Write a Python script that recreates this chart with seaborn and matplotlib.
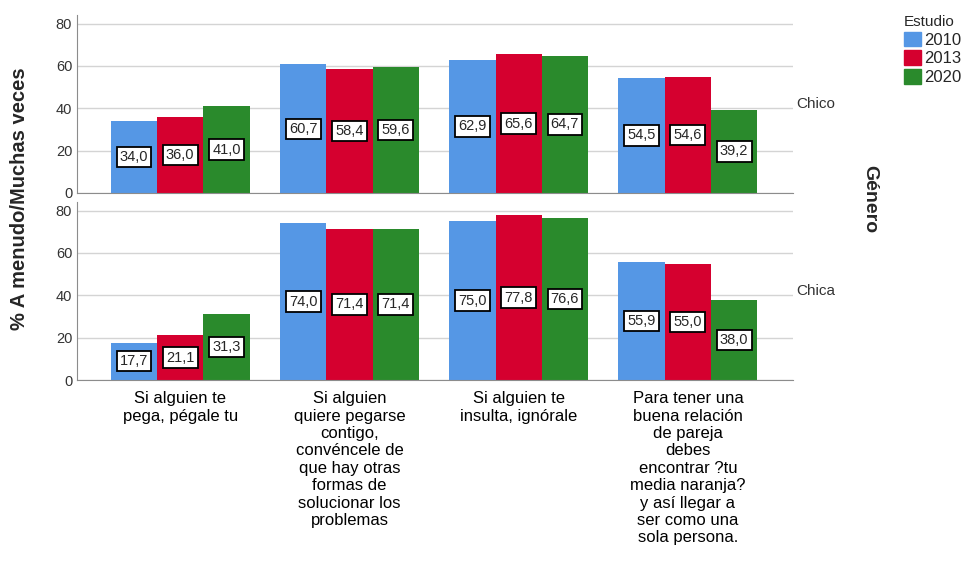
import pandas as pd
import matplotlib.pyplot as plt
import seaborn as sns
from matplotlib.patches import Patch

# ---- data ----
categories = [
    "Si alguien te\npega, pégale tu",
    "Si alguien\nquiere pegarse\ncontigo,\nconvéncele de\nque hay otras\nformas de\nsolucionar los\nproblemas",
    "Si alguien te\ninsulta, ignórale",
    "Para tener una\nbuena relación\nde pareja\ndebes\nencontrar ?tu\nmedia naranja?\ny así llegar a\nser como una\nsola persona.",
]
years = ["2010", "2013", "2020"]
genders = ["Chico", "Chica"]

chico_2010 = [34.0, 60.7, 62.9, 54.5]
chico_2013 = [36.0, 58.4, 65.6, 54.6]
chico_2020 = [41.0, 59.6, 64.7, 39.2]
chica_2010 = [17.7, 74.0, 75.0, 55.9]
chica_2013 = [21.1, 71.4, 77.8, 55.0]
chica_2020 = [31.3, 71.4, 76.6, 38.0]

colors = ["#5597e5", "#d5002f", "#2a8a2c"]

rows = []
for g, series in [("Chico", [chico_2010, chico_2013, chico_2020]),
                  ("Chica", [chica_2010, chica_2013, chica_2020])]:
    for y, vals in zip(years, series):
        for c, v in zip(categories, vals):
            rows.append({"genero": g, "estudio": y, "cat": c, "val": v})
df = pd.DataFrame(rows)

# ---- plot ----
sns.set_style("white")
plt.rcParams['font.family'] = ['Liberation Sans', 'DejaVu Sans']

fig = plt.figure(figsize=(9.66, 5.61), dpi=100)
ax_top = fig.add_axes([0.0797, 0.656, 0.741, 0.317])
ax_bot = fig.add_axes([0.0797, 0.3226, 0.741, 0.317])

for ax, g in [(ax_top, "Chico"), (ax_bot, "Chica")]:
    sub = df[df["genero"] == g]
    sns.barplot(data=sub, x="cat", y="val", hue="estudio", hue_order=years,
                order=categories, palette=colors, width=0.82, gap=0,
                saturation=1, errorbar=None, ax=ax, legend=False,
                linewidth=0)
    for cont in ax.containers:
        labs = [f"{b.get_height():.1f}".replace(".", ",") for b in cont]
        ax.bar_label(cont, labels=labs, label_type="center", fontsize=10.5,
                     bbox=dict(boxstyle="square,pad=0.22", fc="white",
                               ec="black", lw=1.3))
    ax.set_ylim(0, 84)
    ax.set_xlim(-0.61, 3.62)
    ax.set_yticks([0, 20, 40, 60, 80])
    ax.yaxis.grid(True, color="#d4d4d4", lw=1)
    ax.set_axisbelow(True)
    for s in ["top", "right"]:
        ax.spines[s].set_visible(False)
    for s in ["left", "bottom"]:
        ax.spines[s].set_color("#8c8c8c")
    ax.tick_params(axis="both", length=0, labelsize=10.5, colors="#333333")
    ax.set_xlabel("")
    ax.set_ylabel("")
    ax.text(1.005, 0.5, g, transform=ax.transAxes, fontsize=11,
            color="#333333", va="center", ha="left")

ax_top.set_xticklabels([])
ax_bot.tick_params(axis="x", labelsize=12, colors="black", pad=8)

fig.text(0.02, 0.645, "% A menudo/Muchas veces", rotation=90, fontsize=14.5,
         fontweight="bold", va="center", ha="center")
fig.text(0.9, 0.645, "Género", rotation=-90, fontsize=14,
         fontweight="bold", va="center", ha="center")

handles = [Patch(color=c, label=y) for c, y in zip(colors, years)]
leg = fig.legend(handles=handles, title="Estudio", loc="upper left",
                 bbox_to_anchor=(0.929, 0.985), frameon=False, fontsize=12,
                 title_fontsize=11, handlelength=1.0, handleheight=1.0,
                 handletextpad=0.2, labelspacing=0.15, borderaxespad=0)
leg._legend_box.align = "left"

fig.savefig("out.png", dpi=100)
